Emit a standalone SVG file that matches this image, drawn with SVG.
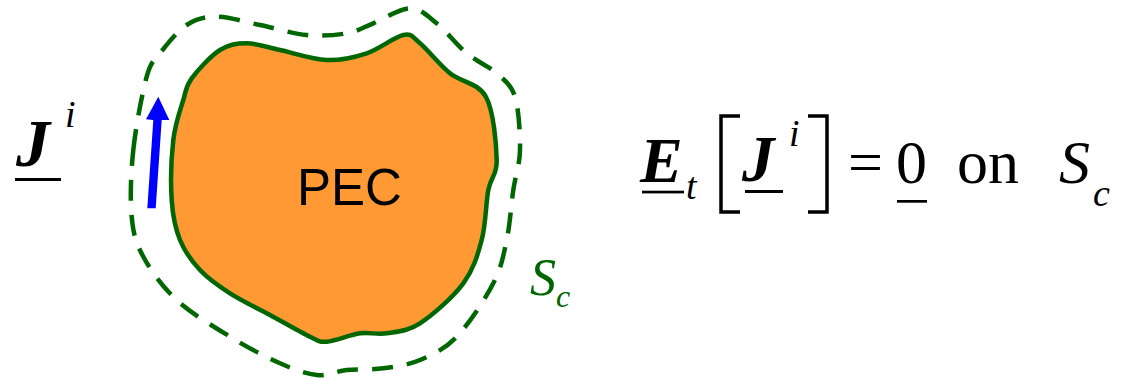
<svg xmlns="http://www.w3.org/2000/svg" width="1121" height="379" viewBox="0 0 1121 379">
<style>
.m{font-family:"Liberation Serif","Times New Roman",serif;fill:#000}
.bi{font-weight:bold;font-style:italic}
.it{font-style:italic}
.ul{fill:#000}
.outline{fill:none;stroke:#006600;stroke-width:4.5}
</style>
<rect width="1121" height="379" fill="#fff"/>
<g id="pec">
<path d="M191.7,78.3 C197.8,70 210.8,55.8 220,50 C229.2,44.2 236.7,43.3 246.7,43.3 C256.7,43.3 266.7,47.2 280,50 C293.3,52.8 312.2,59.5 326.7,60 C341.2,60.6 353.9,57.5 366.7,53.3 C379.5,49.1 394.4,36.7 403.3,35 C412.2,33.3 412.2,36.9 420,43.3 C427.8,49.7 439,64.4 450,73.3 C461,82.3 478.2,82.5 486,97 C493.8,111.5 496.3,144.5 496.7,160 C497.1,175.5 490.8,176.7 488.3,190 C485.8,203.3 485.9,224.4 481.7,240 C477.5,255.6 473.6,269.4 463.3,283.3 C453,297.2 432.8,315 420,323.3 C407.2,331.6 396.7,331.6 386.7,333.3 C376.7,335 370,331.9 360,333.3 C350,334.7 335,341.1 326.7,341.7 C318.4,342.3 319.5,341.2 310,336.7 C300.5,332.2 283.3,322.2 270,315 C256.7,307.8 241.7,300.8 230,293.3 C218.3,285.8 208.3,278.9 200,270 C191.7,261.1 184.7,251.7 180,240 C175.3,228.3 172.8,216.7 171.7,200 C170.6,183.3 171.4,156.7 173.3,140 C175.2,123.3 180.2,110.3 183.3,100 C186.4,89.7 185.6,86.6 191.7,78.3 Z" fill="#FF9933" stroke="#006600" stroke-width="4.5"/>
<text x="297" y="205" font-family="'Liberation Sans',Arial,sans-serif" font-size="51" fill="#000">PEC</text>
</g>
<g id="surface-sc">
<path class="outline" stroke-dasharray="21 14" d="M133.3,150 C135.8,126.7 142.2,92.8 146.7,76.7 C151.2,60.6 153.3,61.9 160,53.3 C166.7,44.7 177.3,31.1 186.7,25 C196.1,18.9 204.5,16.7 216.7,16.7 C228.9,16.7 245,22 260,25 C275,28.1 292.2,33.6 306.7,35 C321.2,36.4 335.6,35.3 346.7,33.3 C357.8,31.4 362.7,27.5 373.3,23.3 C383.9,19.1 399.4,8.3 410,8.3 C420.6,8.3 427.3,15.8 436.7,23.3 C446.1,30.8 456.7,45 466.7,53.3 C476.7,61.6 488.6,66.1 496.7,73.3 C504.8,80.5 511.1,83.9 515,96.7 C518.9,109.5 520.3,134.5 520,150 C519.7,165.6 515.5,175 513.3,190 C511.1,205 510,224.5 506.7,240 C503.4,255.6 501.6,267.2 493.3,283.3 C485,299.5 468.9,323.9 456.7,336.7 C444.5,349.5 432.2,354.7 420,360 C407.8,365.3 395.5,366.6 383.3,368.3 C371.1,370 357.8,368.9 346.7,370 C335.6,371.1 327.8,376.1 316.7,375 C305.6,373.9 294.5,369.7 280,363.3 C265.5,356.9 247.2,347.3 230,336.7 C212.8,326.1 191.1,313.3 176.7,300 C162.3,286.7 150.8,270.6 143.3,256.7 C135.8,242.8 133.4,234.5 131.7,216.7 C130,198.9 130.8,173.3 133.3,150 Z"/>
<text class="m it" x="530" y="295" font-size="52" style="fill:#006600">S</text>
<text class="m it" x="556" y="307" font-size="32" style="fill:#006600">c</text>
</g>
<g id="current-arrow">
<polygon points="147.3,208.3 155.7,208.3 161.7,120 169.3,120 158.3,96.7 146,119.3 153.3,120" fill="#0000FF"/>
</g>
<g id="label-ji">
<text class="m bi" x="16" y="166" font-size="68">J</text>
<rect class="ul" x="15" y="178" width="46" height="3"/>
<text class="m it" x="65" y="127" font-size="38">i</text>
</g>
<g id="equation">
<text class="m bi" x="640" y="182" font-size="64">E</text>
<rect class="ul" x="642" y="190.7" width="42" height="2.7"/>
<text class="m it" x="686" y="199" font-size="38">t</text>
<path d="M740,116 H721 V212 H740" fill="none" stroke="#000" stroke-width="3.5"/>
<text class="m bi" x="742" y="181" font-size="65">J</text>
<rect class="ul" x="745" y="190" width="38" height="3"/>
<text class="m it" x="789" y="146" font-size="38">i</text>
<path d="M808,116 H827 V212 H808" fill="none" stroke="#000" stroke-width="3.5"/>
<text class="m" x="848" y="183" font-size="62">=</text>
<text class="m" x="896" y="183" font-size="62">0</text>
<rect class="ul" x="897" y="200" width="30" height="2.7"/>
<text class="m" x="957" y="183" font-size="62">on</text>
<text class="m it" x="1059" y="183" font-size="62">S</text>
<text class="m it" x="1093" y="206" font-size="38">c</text>
</g>
</svg>
